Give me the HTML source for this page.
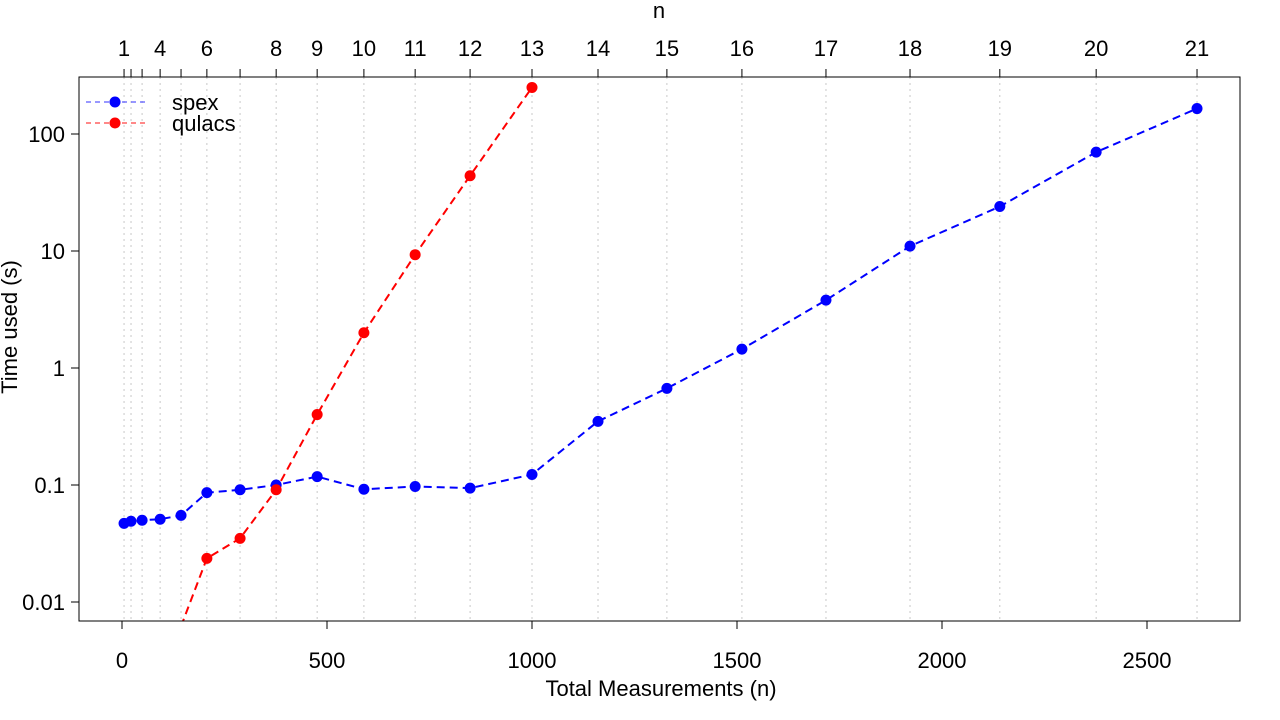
<!DOCTYPE html>
<html><head><meta charset="utf-8"><style>
body{margin:0;background:#fff;}
svg{display:block;font-family:"Liberation Sans",Arial,sans-serif;}
</style></head><body>
<svg id="chart" width="1280" height="720" viewBox="0 0 1280 720">
<g id="grid"></g>
<g id="series"></g>
<rect x="79" y="77" width="1161" height="544" fill="none" stroke="#000" stroke-width="1"/>
<g id="axes"></g>
<text x="659" y="18" font-size="22" text-anchor="middle">n</text>
<text x="661" y="696" font-size="22" text-anchor="middle">Total Measurements (n)</text>
<text transform="translate(17,327) rotate(-90)" font-size="22" text-anchor="middle">Time used (s)</text>
<g>
<g>
<line x1="86" y1="102" x2="146" y2="102" stroke="#5a5aff" stroke-width="1.3" stroke-dasharray="5,4"/>
<circle cx="115" cy="102" r="5.5" fill="#0000ff"/>
<text x="172" y="110" font-size="22">spex</text></g>
<g>
<line x1="86" y1="123" x2="146" y2="123" stroke="#ff4040" stroke-width="1.3" stroke-dasharray="5,4"/>
<circle cx="115" cy="123" r="5.5" fill="#ff0000"/>
<text x="172" y="131" font-size="22">qulacs</text></g>
</g>
</svg>
<script>
const nValues=[1,2,3,4,5,6,7,8,9,10,11,12,13,14,15,16,17,18,19,20,21];
const measurements=[5,22,49,93,144,207,288,376,476,590,715,849,1000,1161,1329,1512,1717,1922,2141,2376,2622];
const topLabels=["1","","","4","","6","","8","9","10","11","12","13","14","15","16","17","18","19","20","21"];
const spexTimes=[0.047,0.049,0.050,0.051,0.055,0.086,0.091,0.1,0.118,0.092,0.097,0.094,0.123,0.35,0.67,1.45,3.8,11,24,70,165];
const qulacsTimes=[null,null,null,null,0.0062,0.0236,0.035,0.091,0.4,2.0,9.3,44,250,null,null,null,null,null,null,null,null];
const xTicks=[0,500,1000,1500,2000,2500];
const yTicks=[0.01,0.1,1,10,100];
const yTickLabels=["0.01","0.1","1","10","100"];

const X=v=>122+v*0.41;
const Y=v=>602-(Math.log10(v)+2)*117;
const NS="http://www.w3.org/2000/svg";
function mk(tag,attrs,parent){const e=document.createElementNS(NS,tag);for(const k in attrs)e.setAttribute(k,attrs[k]);parent.appendChild(e);return e;}
const grid=document.getElementById('grid'),axes=document.getElementById('axes'),series=document.getElementById('series');

measurements.forEach((m,i)=>{
  const x=X(m);
  const g=mk('line',{x1:x,y1:77,x2:x,y2:621,stroke:'#c8c8c8','stroke-width':1,'stroke-dasharray':'2,4'},grid);
  
  
  const t=mk('line',{x1:x,y1:69,x2:x,y2:77,stroke:'#000'},axes);
  
  
  if(topLabels[i]){
    const l=mk('text',{x:x,y:56,'font-size':22,'text-anchor':'middle'},axes);l.textContent=topLabels[i];
    
    
  }
});
xTicks.forEach(v=>{
  const x=X(v);
  const t=mk('line',{x1:x,y1:621,x2:x,y2:629,stroke:'#000'},axes);
  
  
  const l=mk('text',{x:x,y:668,'font-size':22,'text-anchor':'middle'},axes);l.textContent=v;
  
  
});
yTicks.forEach((v,i)=>{
  const y=Y(v);
  const t=mk('line',{x1:71,y1:y,x2:79,y2:y,stroke:'#000'},axes);
  
  
  const l=mk('text',{x:65,y:y+8,'font-size':22,'text-anchor':'end'},axes);l.textContent=yTickLabels[i];
  
  
});

mk('clipPath',{id:'clip'},document.getElementById('chart'));
mk('rect',{x:79,y:77,width:1161,height:544},document.getElementById('clip'));

function draw(vals,color,name){
  const g=mk('g',{'clip-path':'url(#clip)'},series);
  
  
  const pts=[];
  vals.forEach((v,i)=>{if(v!=null)pts.push([X(measurements[i]),Y(v)]);});
  const p=mk('polyline',{points:pts.map(p=>p.join(',')).join(' '),fill:'none',stroke:color,'stroke-width':2,'stroke-dasharray':'8,5'},g);
  
  
  pts.forEach(pt=>{
    const c=mk('circle',{cx:pt[0],cy:pt[1],r:5.5,fill:color},g);
    
    
  });
}
draw(spexTimes,'#0000ff','spex');
draw(qulacsTimes,'#ff0000','qulacs');
</script>
</body></html>
